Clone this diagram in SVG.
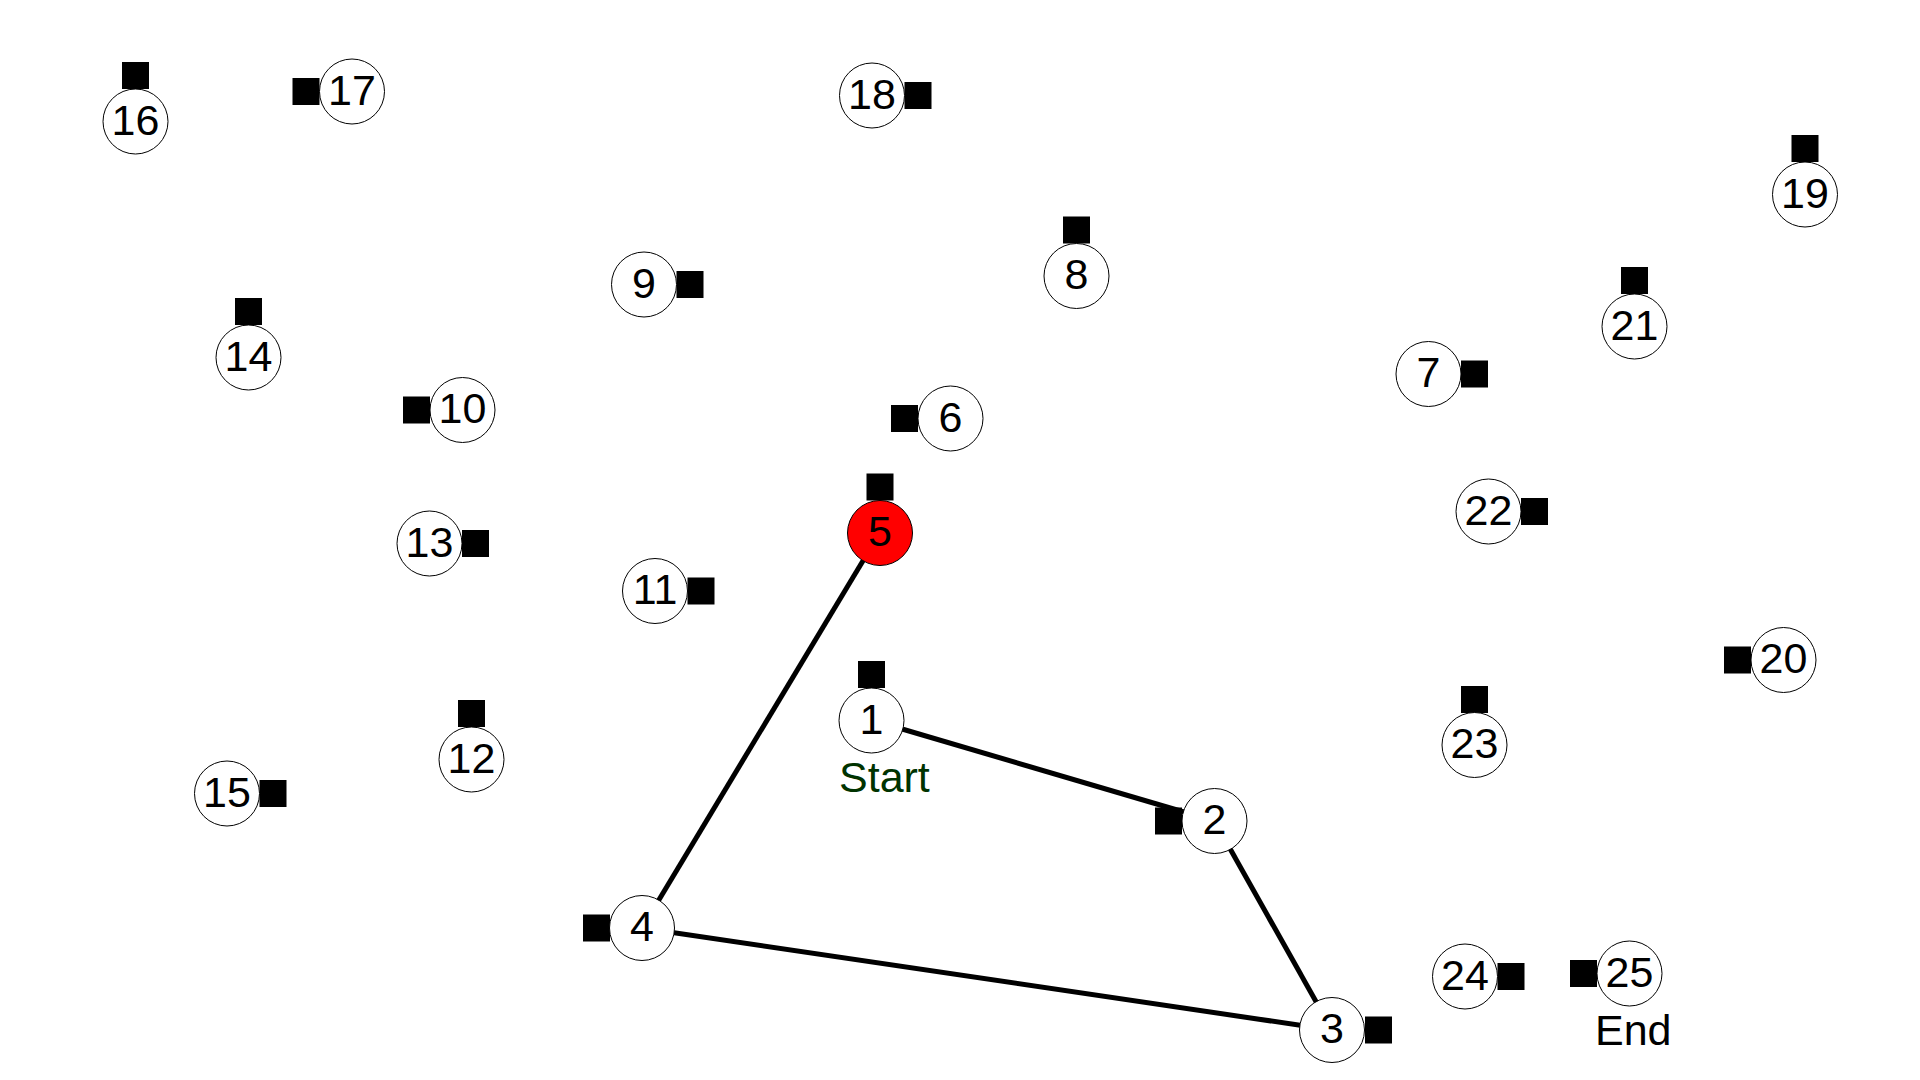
<svg xmlns="http://www.w3.org/2000/svg" width="1920" height="1080" viewBox="0 0 1920 1080">
<style>
.n{fill:#fff;stroke:#000;stroke-width:1}
.cur{fill:#ff0000;stroke:#000;stroke-width:1}
.sq{fill:#000}
.t{font-family:"Liberation Sans",Arial,sans-serif;font-size:43px;fill:#000;text-anchor:middle}
.lbl{font-family:"Liberation Sans",Arial,sans-serif;font-size:43px}
.e{stroke:#000;stroke-width:5;fill:none}
</style>
<rect width="1920" height="1080" fill="#fff"/>
<g id="connectors">
<line class="e" x1="871.5" y1="720" x2="1214.5" y2="821"/>
<line class="e" x1="1214.5" y1="821" x2="1332" y2="1030"/>
<line class="e" x1="1332" y1="1030" x2="642" y2="928"/>
<line class="e" x1="642" y1="928" x2="880" y2="532.5"/>
</g>
<g id="node1"><rect class="sq" x="858" y="661" width="27" height="27"/><circle class="n" cx="871.5" cy="720.5" r="32.5"/><text class="t" x="871.5" y="733.5">1</text></g>
<g id="node2"><rect class="sq" x="1155" y="807.5" width="27" height="27"/><circle class="n" cx="1214.5" cy="821" r="32.5"/><text class="t" x="1214.5" y="834">2</text></g>
<g id="node3"><rect class="sq" x="1365" y="1016.5" width="27" height="27"/><circle class="n" cx="1332" cy="1030" r="32.5"/><text class="t" x="1332" y="1043">3</text></g>
<g id="node4"><rect class="sq" x="583" y="914.5" width="27" height="27"/><circle class="n" cx="642" cy="928" r="32.5"/><text class="t" x="642" y="941">4</text></g>
<g id="node5"><rect class="sq" x="866.5" y="473.5" width="27" height="27"/><circle class="cur" cx="880" cy="533" r="32.5"/><text class="t" x="880" y="546">5</text></g>
<g id="node6"><rect class="sq" x="891" y="405" width="27" height="27"/><circle class="n" cx="950.5" cy="418.5" r="32.5"/><text class="t" x="950.5" y="431.5">6</text></g>
<g id="node7"><rect class="sq" x="1461" y="360.5" width="27" height="27"/><circle class="n" cx="1428.5" cy="374" r="32.5"/><text class="t" x="1428.5" y="387">7</text></g>
<g id="node8"><rect class="sq" x="1063" y="216.5" width="27" height="27"/><circle class="n" cx="1076.5" cy="276" r="32.5"/><text class="t" x="1076.5" y="289">8</text></g>
<g id="node9"><rect class="sq" x="676.5" y="271" width="27" height="27"/><circle class="n" cx="644" cy="284.5" r="32.5"/><text class="t" x="644" y="297.5">9</text></g>
<g id="node10"><rect class="sq" x="403" y="396.5" width="27" height="27"/><circle class="n" cx="462.5" cy="410" r="32.5"/><text class="t" x="462.5" y="423">10</text></g>
<g id="node11"><rect class="sq" x="687.5" y="577.5" width="27" height="27"/><circle class="n" cx="655" cy="591" r="32.5"/><text class="t" x="655" y="604">11</text></g>
<g id="node12"><rect class="sq" x="458" y="700" width="27" height="27"/><circle class="n" cx="471.5" cy="759.5" r="32.5"/><text class="t" x="471.5" y="772.5">12</text></g>
<g id="node13"><rect class="sq" x="462" y="530" width="27" height="27"/><circle class="n" cx="429.5" cy="543.5" r="32.5"/><text class="t" x="429.5" y="556.5">13</text></g>
<g id="node14"><rect class="sq" x="235" y="298" width="27" height="27"/><circle class="n" cx="248.5" cy="357.5" r="32.5"/><text class="t" x="248.5" y="370.5">14</text></g>
<g id="node15"><rect class="sq" x="259.5" y="780" width="27" height="27"/><circle class="n" cx="227" cy="793.5" r="32.5"/><text class="t" x="227" y="806.5">15</text></g>
<g id="node16"><rect class="sq" x="122" y="62" width="27" height="27"/><circle class="n" cx="135.5" cy="121.5" r="32.5"/><text class="t" x="135.5" y="134.5">16</text></g>
<g id="node17"><rect class="sq" x="292.5" y="78" width="27" height="27"/><circle class="n" cx="352" cy="91.5" r="32.5"/><text class="t" x="352" y="104.5">17</text></g>
<g id="node18"><rect class="sq" x="904.5" y="82" width="27" height="27"/><circle class="n" cx="872" cy="95.5" r="32.5"/><text class="t" x="872" y="108.5">18</text></g>
<g id="node19"><rect class="sq" x="1791.5" y="135" width="27" height="27"/><circle class="n" cx="1805" cy="194.5" r="32.5"/><text class="t" x="1805" y="207.5">19</text></g>
<g id="node20"><rect class="sq" x="1724" y="646.5" width="27" height="27"/><circle class="n" cx="1783.5" cy="660" r="32.5"/><text class="t" x="1783.5" y="673">20</text></g>
<g id="node21"><rect class="sq" x="1621" y="267" width="27" height="27"/><circle class="n" cx="1634.5" cy="326.5" r="32.5"/><text class="t" x="1634.5" y="339.5">21</text></g>
<g id="node22"><rect class="sq" x="1521" y="498" width="27" height="27"/><circle class="n" cx="1488.5" cy="511.5" r="32.5"/><text class="t" x="1488.5" y="524.5">22</text></g>
<g id="node23"><rect class="sq" x="1461" y="686" width="27" height="27"/><circle class="n" cx="1474.5" cy="745" r="32.5"/><text class="t" x="1474.5" y="758">23</text></g>
<g id="node24"><rect class="sq" x="1497.5" y="963" width="27" height="27"/><circle class="n" cx="1465" cy="976.5" r="32.5"/><text class="t" x="1465" y="989.5">24</text></g>
<g id="node25"><rect class="sq" x="1570" y="960" width="27" height="27"/><circle class="n" cx="1629.5" cy="973.5" r="32.5"/><text class="t" x="1629.5" y="986.5">25</text></g>
<text class="lbl" x="839" y="792" fill="#003300">Start</text>
<text class="lbl" x="1595" y="1045" fill="#000">End</text>
</svg>
